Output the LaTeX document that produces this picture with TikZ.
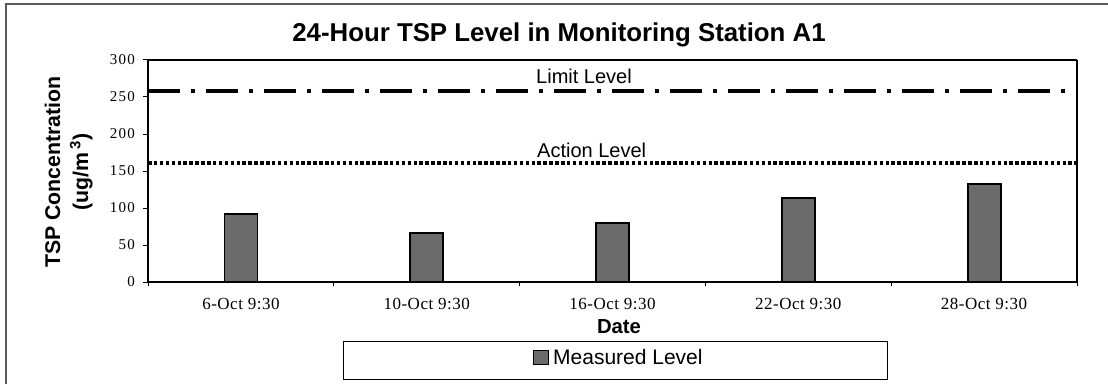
\documentclass[tikz,border=0pt]{standalone}
\usepackage{fontspec}
\setmainfont{Liberation Sans}
\newfontfamily\tickfont[LetterSpace=8]{Liberation Serif}
\newfontfamily\catfont[LetterSpace=3]{Liberation Serif}
\begin{document}
\begin{tikzpicture}[x=1pt,y=1pt,
  axisline/.style={line width=2.2pt},
  bar/.style={draw=black,line width=1.8pt,fill=black!58},
  ytick/.style={anchor=east,inner sep=0pt,font=\tickfont\fontsize{15}{16}\selectfont},
  xtick/.style={anchor=base,inner sep=0pt,font=\catfont\fontsize{17}{19}\selectfont},
  lvltext/.style={anchor=base west,inner sep=0pt,font=\fontsize{20}{24}\selectfont},
  ylab/.style={anchor=base,inner sep=0pt,rotate=90,font=\bfseries\fontsize{21.3}{25}\selectfont}]
\useasboundingbox (0,0) rectangle (1108,384);
% outer frame (top and left edges)
\draw[black!65,line width=1.2pt] (6,0) -- (6,380) -- (1108,380);
% title
\node[anchor=base,inner sep=0pt,font=\bfseries\fontsize{25.8}{30}\selectfont] (title) at (559,342)
  {24-Hour TSP Level in Monitoring Station A1};
% axis titles
\node[ylab] (ylab1) at (60,212) {TSP Concentration};
\node[ylab] (ylab2) at (88,212) {(ug/m\,\textsuperscript{3})};
\node[anchor=base,inner sep=0pt,font=\bfseries\fontsize{20.3}{24}\selectfont] (xlab) at (619,51) {Date};
% plot area in data units
\begin{scope}[shift={(148,102)},y=0.74pt]
  \def\cw{185.8}
  % level lines
  \draw[line width=4pt,dash pattern=on 32pt off 11pt on 4pt off 11pt] (0,258.5) -- (929,258.5);
  \draw[line width=3.5pt,dash pattern=on 3.5pt off 2.4pt] (0,160.5) -- (929,160.5);
  % bars
  \foreach \i/\v in {1/92,2/66,3/80,4/113,5/132}{
    \draw[bar] ({(\i-0.5)*\cw-16.5},0) rectangle ({(\i-0.5)*\cw+16.5},\v);
  }
  % frame and axes
  \draw[line width=1.3pt] (0,300) -- (929,300);
  \draw[line width=2pt] (929,0) -- (929,300);
  \draw[axisline] (0,0) -- (0,300);
  \draw[axisline] (0,0) -- (929,0);
  % y ticks and labels
  \foreach \v in {0,50,...,300}{
    \draw[line width=1pt] (-5,\v) -- (0,\v);
    \node[ytick] (yt\v) at (-13,\v) {\v};
  }
  % x ticks
  \foreach \i in {0,...,5}{
    \draw[line width=1pt] ({\i*\cw},0) -- ++(0,-6);
  }
  % category labels
  \foreach \i/\t in {1/6-Oct 9:30,2/10-Oct 9:30,3/16-Oct 9:30,4/22-Oct 9:30,5/28-Oct 9:30}{
    \node[xtick] (xt\i) at ({(\i-0.5)*\cw},-37.8) {\t};
  }
\end{scope}
% level labels
\node[lvltext] (limit) at (536,301) {Limit Level};
\node[lvltext] (action) at (537,227) {Action Level};
% legend
\draw[line width=1pt] (343,5) rectangle (887,43);
\draw[draw=black,line width=1pt,fill=black!58] (533,20) rectangle (548,34);
\node[anchor=base west,inner sep=0pt,font=\fontsize{21}{25}\selectfont] (legtext) at (553,20) {Measured Level};
\end{tikzpicture}
\end{document}
